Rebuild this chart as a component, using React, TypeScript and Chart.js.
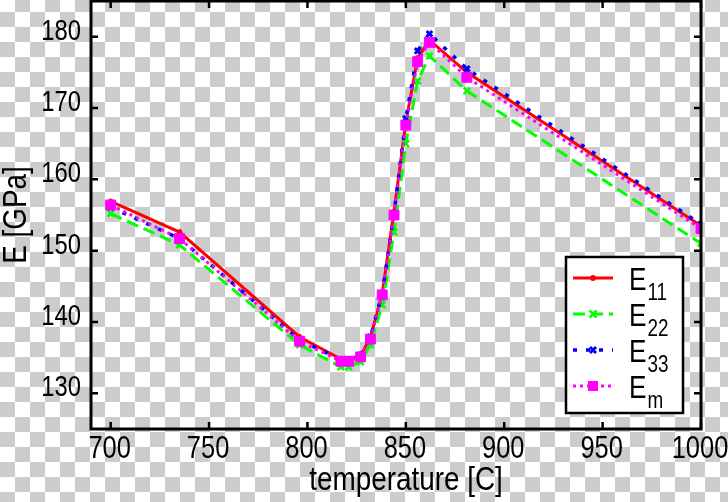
import React, { useEffect, useRef } from "react";
import { Chart, registerables } from "chart.js";

Chart.register(...registerables);

const temperatures = [700, 735, 796, 817, 821, 827, 832, 838, 844, 850, 856, 862, 881, 1000];
const e11 = [156.9, 152.6, 137.9, 134.8, 134.8, 135.3, 137.8, 144.0, 155.5, 168.0, 177.0, 179.5, 175.0, 153.5];
const e22 = [155.2, 150.8, 136.8, 133.7, 133.7, 134.4, 136.8, 142.4, 152.6, 165.0, 173.8, 177.3, 172.4, 151.0];
const e33 = [156.1, 151.7, 137.5, 134.7, 134.7, 135.4, 137.9, 144.0, 155.2, 168.5, 178.0, 180.4, 175.5, 153.7];
const em = [156.4, 151.7, 137.3, 134.5, 134.5, 135.1, 137.6, 143.8, 155.0, 167.6, 176.5, 179.2, 174.3, 153.1];

const xTicks = [700, 750, 800, 850, 900, 950, 1000];
const yTicks = [130, 140, 150, 160, 170, 180];
const legendSubs = ["11", "22", "33", "m"];
const xTitle = "temperature [C]";
const yTitle = "E [GPa]";

const FONT = '"Liberation Sans", Arial, sans-serif';
const NARROW = 0.82;

const styles = [
  { color: "#ff0000", dash: [] as number[], width: 3, marker: "circle" },
  { color: "#00ff00", dash: [12, 6], width: 3, marker: "cross" },
  { color: "#0000ff", dash: [4, 9], width: 3.5, marker: "crossb" },
  { color: "#ff00ff", dash: [3, 4], width: 3, marker: "rect" },
];

function drawMarker(ctx: CanvasRenderingContext2D, kind: string, x: number, y: number, color: string) {
  ctx.save();
  ctx.setLineDash([]);
  ctx.fillStyle = color;
  ctx.strokeStyle = color;
  if (kind === "circle") {
    ctx.beginPath();
    ctx.arc(x, y, 3, 0, Math.PI * 2);
    ctx.fill();
  } else if (kind === "cross" || kind === "crossb") {
    const r = kind === "cross" ? 3.5 : 3;
    ctx.lineWidth = kind === "cross" ? 2.5 : 3;
    ctx.beginPath();
    ctx.moveTo(x - r, y - r);
    ctx.lineTo(x + r, y + r);
    ctx.moveTo(x + r, y - r);
    ctx.lineTo(x - r, y + r);
    ctx.stroke();
  } else {
    ctx.fillRect(x - 5, y - 5, 10, 10);
  }
  ctx.restore();
}

const framePlugin = {
  id: "frame",
  afterDatasetsDraw(chart: any) {
    const { ctx, chartArea } = chart;
    const { left, right, top, bottom } = chartArea;
    const xs = chart.scales.x;
    const ys = chart.scales.y;
    ctx.save();
    ctx.strokeStyle = "#000";
    ctx.lineWidth = 3;
    ctx.setLineDash([]);
    ctx.strokeRect(left, top, right - left, bottom - top);
    ctx.lineWidth = 2.5;
    const len = 7;
    ctx.beginPath();
    for (const v of xTicks) {
      const px = xs.getPixelForValue(v);
      ctx.moveTo(px, bottom);
      ctx.lineTo(px, bottom - len);
      ctx.moveTo(px, top);
      ctx.lineTo(px, top + len);
    }
    for (const v of yTicks) {
      const py = ys.getPixelForValue(v);
      ctx.moveTo(left, py);
      ctx.lineTo(left + len, py);
      ctx.moveTo(right, py);
      ctx.lineTo(right - len, py);
    }
    ctx.stroke();
    // x axis title
    ctx.fillStyle = "#000";
    ctx.font = `34px ${FONT}`;
    ctx.textAlign = "center";
    ctx.textBaseline = "middle";
    ctx.fillText(xTitle, (left + right) / 2 + 10, 481);
    ctx.restore();
  },
};

const legendPlugin = {
  id: "customLegend",
  afterDraw(chart: any) {
    const { ctx, chartArea } = chart;
    const boxRight = chartArea.right - 18;
    const boxBottom = chartArea.bottom - 16;
    const boxW = 117;
    const boxH = 156;
    const bx = boxRight - boxW;
    const by = boxBottom - boxH;
    ctx.save();
    ctx.fillStyle = "#ffffff";
    ctx.fillRect(bx, by, boxW, boxH);
    ctx.strokeStyle = "#000";
    ctx.lineWidth = 2.5;
    ctx.setLineDash([]);
    ctx.strokeRect(bx, by, boxW, boxH);
    legendSubs.forEach((sub, i) => {
      const st = styles[i];
      const cy = by + 21 + i * 36;
      ctx.save();
      ctx.strokeStyle = st.color;
      ctx.lineWidth = st.width;
      ctx.setLineDash(st.dash);
      ctx.beginPath();
      ctx.moveTo(bx + 7, cy);
      ctx.lineTo(bx + 47, cy);
      ctx.stroke();
      ctx.restore();
      drawMarker(ctx, st.marker, bx + 27, cy, st.color);
      ctx.fillStyle = "#000";
      ctx.textAlign = "left";
      ctx.textBaseline = "alphabetic";
      ctx.font = `32px ${FONT}`;
      ctx.fillText("E", bx + 63, cy + 12);
      const ew = ctx.measureText("E").width * NARROW;
      ctx.font = `23px ${FONT}`;
      ctx.fillText(sub, bx + 63 + ew + 1, cy + 22);
    });
    ctx.restore();
  },
};

export default function App() {
  const canvasRef = useRef<HTMLCanvasElement | null>(null);

  useEffect(() => {
    document.body.style.margin = "0";
    const canvas = canvasRef.current;
    if (!canvas) return;
    const c2d = canvas.getContext("2d") as any;
    if (c2d && !c2d.__narrow) {
      const orig = c2d.fillText.bind(c2d);
      c2d.fillText = (t: string, x: number, y: number, mw?: number) => {
        c2d.save();
        c2d.translate(x, y);
        c2d.scale(NARROW, 1);
        if (mw !== undefined) orig(t, 0, 0, mw / NARROW);
        else orig(t, 0, 0);
        c2d.restore();
      };
      c2d.__narrow = true;
    }
    const mkData = (vals: number[]) => temperatures.map((t, i) => ({ x: t, y: vals[i] }));
    const pointStyles: any[] = ["circle", "crossRot", "crossRot", "rect"];
    const radii = [2.5, 4.5, 4, 7];
    const pbw = [1, 2.5, 3, 1];
    const names = ["E11", "E22", "E33", "Em"];
    const series = [e11, e22, e33, em];
    const chart = new Chart(canvas, {
      type: "line",
      data: {
        datasets: series.map((vals, i) => ({
          label: names[i],
          data: mkData(vals),
          borderColor: styles[i].color,
          backgroundColor: styles[i].color,
          borderWidth: styles[i].width,
          borderDash: styles[i].dash,
          borderCapStyle: "butt" as const,
          pointStyle: pointStyles[i],
          pointRadius: radii[i],
          pointBorderWidth: pbw[i],
          pointBorderColor: styles[i].color,
          pointBackgroundColor: styles[i].color,
          tension: 0,
          fill: false,
          order: 3 - i,
        })),
      },
      options: {
        animation: false,
        responsive: true,
        maintainAspectRatio: false,
        layout: { autoPadding: false, padding: { top: 1, right: 27, left: 0, bottom: 0 } },
        plugins: {
          legend: { display: false },
          tooltip: { enabled: false },
        },
        scales: {
          x: {
            type: "linear",
            min: 690,
            max: 1000,
            grid: { display: false, drawTicks: false },
            border: { display: false },
            afterBuildTicks: (s: any) => {
              s.ticks = xTicks.map((v) => ({ value: v }));
            },
            afterFit: (s: any) => {
              s.height = 73;
              s.paddingLeft = 0;
              s.paddingRight = 0;
              s.paddingTop = 0;
              s.paddingBottom = 0;
            },
            ticks: {
              color: "#000",
              font: { family: FONT, size: 31 },
              padding: 2,
              labelOffset: -1,
              maxRotation: 0,
              autoSkip: false,
              callback: (v: any) => String(v),
            },
            title: { display: false, text: xTitle },
          },
          y: {
            type: "linear",
            min: 125,
            max: 185,
            grid: { display: false, drawTicks: false },
            border: { display: false },
            afterBuildTicks: (s: any) => {
              s.ticks = yTicks.map((v) => ({ value: v }));
            },
            afterFit: (s: any) => {
              s.width = 91;
              s.paddingLeft = 0;
              s.paddingRight = 0;
              s.paddingTop = 0;
              s.paddingBottom = 0;
            },
            ticks: {
              color: "#000",
              font: { family: FONT, size: 29 },
              padding: 10,
              labelOffset: -5,
              autoSkip: false,
              callback: (v: any) => String(v),
            },
            title: {
              display: true,
              text: yTitle,
              color: "#000",
              font: { family: FONT, size: 34, lineHeight: 0.8 },
              padding: { top: 3, bottom: 0 },
            },
          },
        },
      },
      plugins: [framePlugin, legendPlugin],
    });
    return () => chart.destroy();
  }, []);

  return (
    <div
      style={{
        position: "fixed",
        left: 0,
        top: 0,
        width: 728,
        height: 502,
        backgroundColor: "#ffffff",
        backgroundImage:
          "linear-gradient(45deg, #cccccc 25%, transparent 25%, transparent 75%, #cccccc 75%), linear-gradient(45deg, #cccccc 25%, transparent 25%, transparent 75%, #cccccc 75%)",
        backgroundSize: "30px 30px",
        backgroundPosition: "0 -3px, 15px 12px",
      }}
    >
      <canvas ref={canvasRef} />
    </div>
  );
}
